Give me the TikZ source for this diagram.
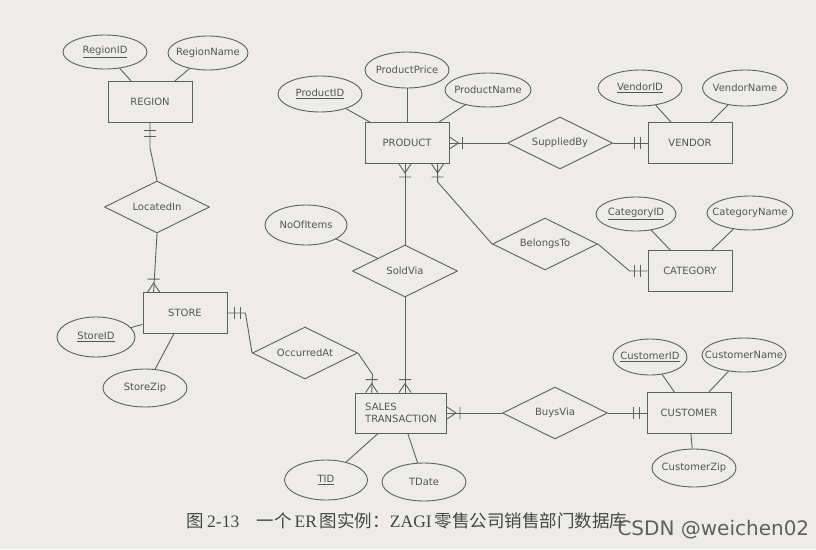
\documentclass[tikz,border=0pt]{standalone}
\usepackage{fontspec}
\setmainfont{DejaVu Sans}
\newfontfamily\cjk{Noto Sans CJK SC}
\newfontfamily\capserif{Liberation Serif}
\usetikzlibrary{shapes.geometric, calc}

\definecolor{paper}{RGB}{237,236,233}
\definecolor{ink}{RGB}{95,95,95}
\definecolor{txt}{RGB}{85,85,85}
\definecolor{captxt}{RGB}{70,70,70}
\definecolor{wmgray}{RGB}{95,95,95}

% cardinality marks: entity edge at #1, line leaving at angle #2
\newcommand{\oneormany}[2]{%
  \begin{scope}[shift={(#1)}, rotate=#2]
    \draw (0,-6) -- (9,0) -- (0,6) (13,-6) -- (13,6);
  \end{scope}}
\newcommand{\exactlyone}[2]{%
  \begin{scope}[shift={(#1)}, rotate=#2]
    \draw (7,-6) -- (7,6) (13,-6) -- (13,6);
  \end{scope}}

\begin{document}
\begin{tikzpicture}[
    x=1pt, y=-1pt,
    color=ink,
    line width=0.9pt,
    entity/.style={
        rectangle,
        draw=ink,
        minimum width=84,
        minimum height=41,
        inner sep=2pt,
        text=txt,
        font=\fontsize{10}{12}\selectfont
    },
    attr/.style={
        ellipse,
        draw=ink,
        minimum width=84,
        minimum height=36,
        inner sep=0pt,
        text=txt,
        font=\fontsize{10}{12}\selectfont,
        execute at begin node={\hbox to 0pt\bgroup\hss},
        execute at end node={\hss\egroup}
    },
    relation/.style={
        diamond,
        aspect=2,
        draw=ink,
        minimum width=105,
        minimum height=52,
        inner sep=0pt,
        text=txt,
        font=\fontsize{10}{12}\selectfont
    }
]

\fill[paper] (0,0) rectangle (816,549);
\useasboundingbox (0,0) rectangle (816,549);

% Entities
\node[entity] (region) at (150,102) {REGION};
\node[entity] (store) at (185,313) {STORE};
\node[entity] (prod) at (407,143) {PRODUCT};
\node[entity] (vendor) at (690,143) {VENDOR};
\node[entity] (cat) at (690,271) {CATEGORY};
\node[entity, minimum width=91, minimum height=40, align=left] (sales) at (401,413) {SALES\\TRANSACTION};
\node[entity] (cust) at (689,413) {CUSTOMER};

% Relationships
\node[relation] (locin) at (157,207) {LocatedIn};
\node[relation] (soldvia) at (405,271) {SoldVia};
\node[relation] (supplied) at (560,143) {SuppliedBy};
\node[relation] (belongs) at (545,244) {BelongsTo};
\node[relation] (occ) at (305,353) {OccurredAt};
\node[relation] (buys) at (555,413) {BuysVia};

% Attributes
\node[attr, minimum height=34] (regid) at (105,52) {\underline{RegionID}};
\node[attr, minimum width=80, minimum height=34] (regname) at (208,53) {RegionName};
\node[attr, minimum width=78, minimum height=40] (storeid) at (96,337) {\underline{StoreID}};
\node[attr, minimum height=38] (storezip) at (145,388) {StoreZip};
\node[attr] (prodprice) at (407,70) {ProductPrice};
\node[attr] (prodid) at (320,94) {\underline{ProductID}};
\node[attr, minimum width=86, minimum height=34] (prodname) at (488,90) {ProductName};
\node[attr] (vendid) at (640,88) {\underline{VendorID}};
\node[attr, minimum width=85] (vendname) at (745,88) {VendorName};
\node[attr, minimum width=80, minimum height=34] (catid) at (636,214) {\underline{CategoryID}};
\node[attr, minimum width=86, minimum height=34] (catname) at (750,213) {CategoryName};
\node[attr, minimum width=82, minimum height=40] (items) at (306,225) {NoOfItems};
\node[attr, minimum width=83, minimum height=40] (tid) at (326,480) {\underline{TID}};
\node[attr, minimum height=38] (tdate) at (424,482) {TDate};
\node[attr, minimum width=74] (custid) at (650,357) {\underline{CustomerID}};
\node[attr, minimum height=34] (custname) at (744,355) {CustomerName};
\node[attr, minimum height=38] (custzip) at (694,468) {CustomerZip};

% Attribute links
\draw (regid) -- (region);
\draw (regname) -- (region);
\draw (storeid) -- (store);
\draw (storezip) -- (store);
\draw (prodprice) -- (prod);
\draw (prodid) -- (prod);
\draw (prodname) -- (prod);
\draw (vendid) -- (vendor);
\draw (vendname) -- (vendor);
\draw (catid) -- (cat);
\draw (catname) -- (cat);
\draw (items) -- (soldvia);
\draw (tid) -- (sales);
\draw (tdate) -- (sales);
\draw (custid) -- (cust);
\draw (custname) -- (cust);
\draw (custzip) -- (cust);

% Connection points and bends
\coordinate (storetop) at ($(store.north west)!0.13!(store.north east)$);
\coordinate (storebend) at ($(store.east)+(18,0)$);
\coordinate (salesleft) at ($(sales.north west)!0.18!(sales.north east)$);
\coordinate (salesbend) at ($(salesleft)+(1,-18)$);
\coordinate (salesmid) at (soldvia.south |- sales.north);
\coordinate (prodleft) at (prod.south -| soldvia.north);
\coordinate (prodright) at ($(prod.south west)!0.86!(prod.south east)$);
\coordinate (prodbend) at ($(prodright)+(0,18)$);
\coordinate (catbend) at ($(cat.west)+(-18,0)$);
\coordinate (regionbend) at ($(region.south)+(0,25)$);

% Relationship links
\draw (region.south) -- (regionbend) -- (locin.north);
\draw (locin.south) -- (storetop);
\draw (store.east) -- (storebend) -- (occ.west);
\draw (occ.east) -- (salesbend) -- (salesleft);
\draw (prodleft) -- (soldvia.north);
\draw (soldvia.south) -- (salesmid);
\draw (prodright) -- (prodbend) -- (belongs.west);
\draw (belongs.east) -- (catbend) -- (cat.west);
\draw (prod.east) -- (supplied.west);
\draw (supplied.east) -- (vendor.west);
\draw (sales.east) -- (buys.west);
\draw (buys.east) -- (cust.west);

% Cardinalities
\exactlyone{region.south}{-90}
\oneormany{storetop}{90}
\exactlyone{store.east}{0}
\oneormany{salesleft}{90}
\oneormany{salesmid}{90}
\oneormany{prodleft}{-90}
\oneormany{prodright}{-90}
\oneormany{prod.east}{0}
\exactlyone{vendor.west}{180}
\exactlyone{cat.west}{180}
\oneormany{sales.east}{0}
\exactlyone{cust.west}{180}

% Caption and watermark
\node[anchor=west, text=captxt, font=\fontsize{17.5}{19}\selectfont] (caption) at (183,521)
    {{\cjk 图}\,{\capserif 2-13}\quad{\cjk 一个}\,{\capserif ER}\,{\cjk 图实例：}{\capserif ZAGI}\,{\cjk 零售公司销售部门数据库}};
\node[anchor=east, text=wmgray, font=\fontsize{20}{22}\selectfont] (mark) at (813,530) {CSDN @weichen02};

\end{tikzpicture}
\end{document}
